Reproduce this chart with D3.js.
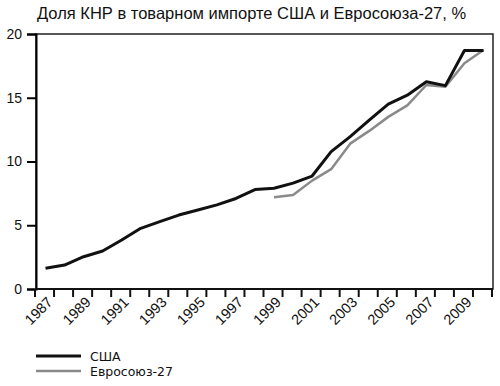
<!DOCTYPE html>
<html>
<head>
<meta charset="utf-8">
<script src="https://cdnjs.cloudflare.com/ajax/libs/d3/7.8.5/d3.min.js"></script>
<style>
  body { margin: 0; background: #fff; }
  text { font-family: "Liberation Sans", Arial, sans-serif; fill: #111; }
</style>
</head>
<body>
<div class="chart"></div>
<script>
var years = d3.range(1987, 2011);
var usa = [1.62, 1.88, 2.53, 2.98, 3.84, 4.76, 5.28, 5.8, 6.2, 6.6, 7.1, 7.8,
           7.9, 8.3, 8.86, 10.77, 11.95, 13.25, 14.5, 15.2, 16.26, 15.95, 18.7, 18.7];
var euYears = d3.range(1999, 2011);
var eu = [7.19, 7.37, 8.5, 9.4, 11.4, 12.4, 13.5, 14.4, 16.0, 15.87, 17.7, 18.75];
var yTicks = [0, 5, 10, 15, 20];
var tickYears = d3.range(1987, 2011, 2);
var title = "Доля КНР в товарном импорте США и Евросоюза-27, %";
var seriesNames = ["США", "Евросоюз-27"];

var svgWidth = 500, svgHeight = 386;
var margin = { top: 34, right: 4, bottom: 97, left: 35 };
var width = svgWidth - margin.left - margin.right;
var height = svgHeight - margin.top - margin.bottom;

var svg = d3.select(".chart").append("svg")
    .attr("width", svgWidth)
    .attr("height", svgHeight);

svg.append("text")
    .attr("x", 37)
    .attr("y", 19)
    .style("font-size", "16.5px")
    .text(title);

var chart = svg.append("g")
    .attr("transform", "translate(" + margin.left + "," + margin.top + ")");

var x = d3.scaleBand().domain(years).range([0, width - 4]);
var y = d3.scaleLinear().domain([0, 20]).range([height, 0]);

// frame
chart.append("rect")
    .attr("x", 1).attr("y", 0)
    .attr("width", width - 4).attr("height", height)
    .attr("fill", "none").attr("stroke", "#222").attr("stroke-width", 1.5);

// y axis
var leftAxis = d3.axisLeft(y).tickValues(yTicks).tickSize(9).tickPadding(5);
var gy = chart.append("g").attr("transform", "translate(1,0)").call(leftAxis);
gy.select(".domain").attr("stroke-width", 2);
gy.selectAll(".tick line").attr("stroke-width", 2);
gy.selectAll("text").style("font-size", "14px");

// x axis, ticks on category boundaries
var gx = chart.append("g").attr("transform", "translate(0," + height + ")");
gx.append("line")
    .attr("x1", 0).attr("x2", width - 3)
    .attr("stroke", "#111").attr("stroke-width", 2);
gx.selectAll(".xt").data(years.concat([2011]))
  .enter().append("line")
    .attr("class", "xt")
    .attr("x1", function(d) { return d === 2011 ? x(2010) + x.bandwidth() : x(d); })
    .attr("x2", function(d) { return d === 2011 ? x(2010) + x.bandwidth() : x(d); })
    .attr("y1", 0).attr("y2", 8)
    .attr("stroke", "#111").attr("stroke-width", 2);
gx.selectAll(".xl").data(tickYears)
  .enter().append("text")
    .attr("class", "xl")
    .attr("text-anchor", "end")
    .style("font-size", "14.5px")
    .attr("transform", function(d) {
        return "translate(" + (x(d) + x.bandwidth() / 2 + 9) + ",14) rotate(-45)";
    })
    .text(function(d) { return d; });

var line = d3.line()
    .x(function(d) { return x(d.year) + x.bandwidth() / 2 + 1; })
    .y(function(d) { return y(d.value); });

var usaData = years.map(function(yr, i) { return { year: yr, value: usa[i] }; });
var euData = euYears.map(function(yr, i) { return { year: yr, value: eu[i] }; });

chart.append("path").datum(euData)
    .attr("d", line)
    .attr("fill", "none").attr("stroke", "#8a8a8a").attr("stroke-width", 2.5)
    .attr("stroke-linejoin", "round");
chart.append("path").datum(usaData)
    .attr("d", line)
    .attr("fill", "none").attr("stroke", "#111").attr("stroke-width", 3)
    .attr("stroke-linejoin", "round");

// legend
var legend = svg.append("g").attr("transform", "translate(36,356)");
var colors = ["#111", "#8a8a8a"];
var widths = [3, 2.5];
seriesNames.forEach(function(name, i) {
    legend.append("line")
        .attr("x1", 0).attr("x2", 45)
        .attr("y1", i * 15).attr("y2", i * 15)
        .attr("stroke", colors[i]).attr("stroke-width", widths[i]);
    legend.append("text")
        .attr("x", 54).attr("y", i * 15 + 5)
        .style("font-family", "'DejaVu Sans', sans-serif")
        .style("font-size", "12.5px")
        .text(name);
});
</script>
</body>
</html>
